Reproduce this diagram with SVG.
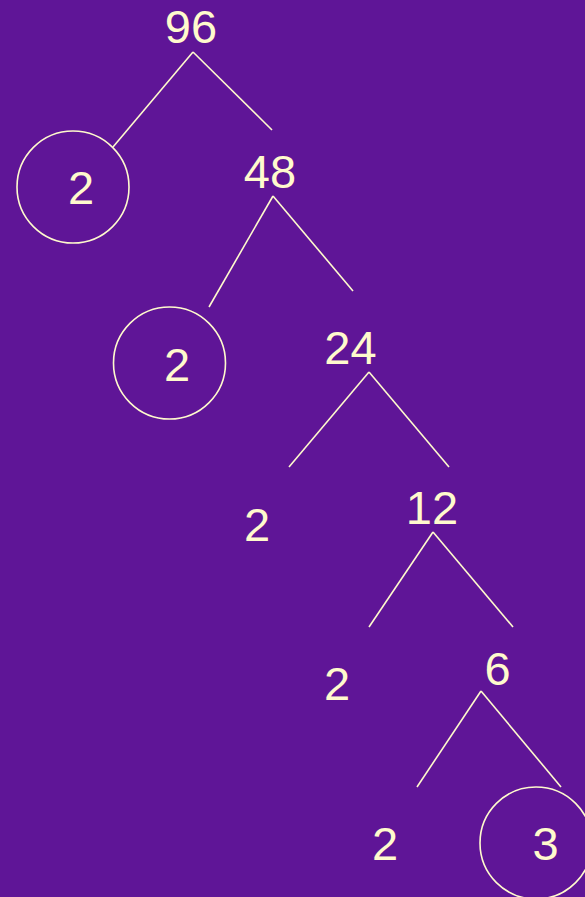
<svg xmlns="http://www.w3.org/2000/svg" width="585" height="897" viewBox="0 0 585 897">
<style>
.t{font-family:"Liberation Sans",Arial,sans-serif;font-size:47px;fill:#fffacd;text-anchor:middle}
.c{fill:none;stroke:#fffacd;stroke-width:1.6}
.l{stroke:#fffacd;stroke-width:1.6;fill:none}
</style>
<rect width="585" height="897" fill="#5f1597"/>
<g id="connectors" class="l">
<line x1="193" y1="52" x2="113" y2="147"/>
<line x1="193" y1="52" x2="272" y2="130"/>
<line x1="273" y1="196" x2="209" y2="307"/>
<line x1="273" y1="196" x2="353" y2="291"/>
<line x1="369" y1="372" x2="289" y2="467"/>
<line x1="369" y1="372" x2="449" y2="467"/>
<line x1="433" y1="532" x2="369" y2="627"/>
<line x1="433" y1="532" x2="513" y2="627"/>
<line x1="481" y1="691" x2="417" y2="787"/>
<line x1="481" y1="691" x2="561" y2="787"/>
</g>
<g id="n96"><text class="t" x="191" y="43">96</text></g>
<g id="n2a"><circle class="c" cx="73" cy="187" r="56"/><text class="t" x="81" y="204">2</text></g>
<g id="n48"><text class="t" x="270" y="188">48</text></g>
<g id="n2b"><circle class="c" cx="169.5" cy="363" r="56"/><text class="t" x="177" y="381">2</text></g>
<g id="n24"><text class="t" x="350.5" y="364">24</text></g>
<g id="n2c"><text class="t" x="257" y="541">2</text></g>
<g id="n12"><text class="t" x="432" y="524">12</text></g>
<g id="n2d"><text class="t" x="337" y="700">2</text></g>
<g id="n6"><text class="t" x="497.5" y="685">6</text></g>
<g id="n2e"><text class="t" x="385" y="860">2</text></g>
<g id="n3"><circle class="c" cx="536" cy="843" r="56"/><text class="t" x="545.5" y="860">3</text></g>
</svg>
